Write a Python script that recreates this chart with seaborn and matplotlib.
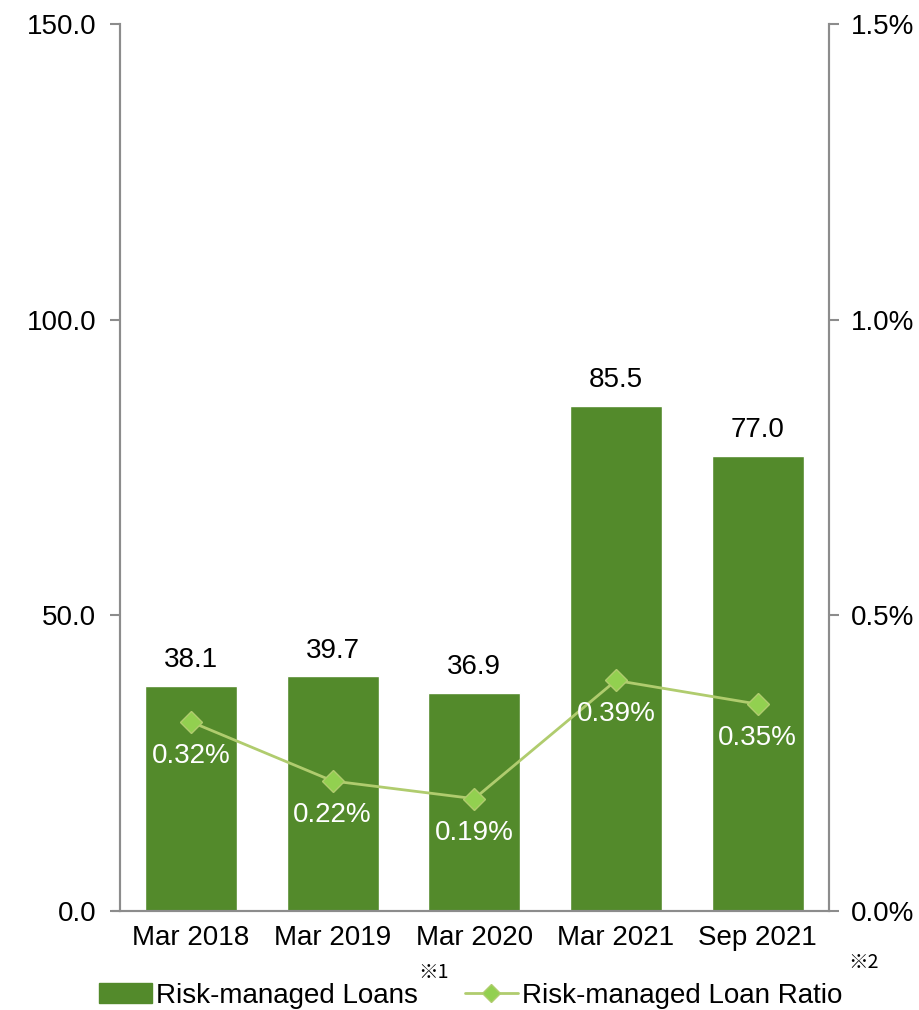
import matplotlib
matplotlib.use("Agg")
import matplotlib.pyplot as plt
import seaborn as sns
import pandas as pd
from matplotlib.patches import Patch
from matplotlib.lines import Line2D
from matplotlib.ticker import FuncFormatter

periods = ["Mar 2018", "Mar 2019", "Mar 2020", "Mar 2021", "Sep 2021"]
loans = [38.1, 39.7, 36.9, 85.5, 77.0]
ratios = [0.32, 0.22, 0.19, 0.39, 0.35]

bar_color = "#538A2B"
line_color = "#B0CC6E"
marker_color = "#92D050"
spine_color = "#8C8C8C"
fs = 20

sns.set_theme(style="white")
plt.rcParams["font.family"] = ["Liberation Sans", "Noto Sans CJK JP", "DejaVu Sans"]
plt.rcParams["text.color"] = "black"

df = pd.DataFrame({"period": periods, "loans": loans, "ratio": ratios})

fig = plt.figure(figsize=(9.19, 10.10), dpi=100)
ax = fig.add_axes([0.1306, 0.098, 0.771, 0.878])

sns.barplot(data=df, x="period", y="loans", color=bar_color, width=0.65,
            saturation=1, ax=ax)
ax.set_ylim(0, 150)
ax.set_yticks([0, 50, 100, 150])
ax.yaxis.set_major_formatter(FuncFormatter(lambda v, p: f"{v:.1f}"))
ax.set_xlabel("")
ax.set_ylabel("")
ax.set_xlim(-0.5, 4.5)

for i, v in enumerate(loans):
    ax.annotate(f"{v:.1f}", (i, v), xytext=(0, 9), textcoords="offset points",
                ha="center", va="bottom", fontsize=fs, color="black")

ax2 = ax.twinx()
ax2.plot(range(len(periods)), ratios, color=line_color, lw=2, marker="D",
         markersize=11, markerfacecolor=marker_color,
         markeredgecolor=line_color, zorder=3)
ax2.set_ylim(0, 1.5)
ax2.set_yticks([0, 0.5, 1.0, 1.5])
ax2.yaxis.set_major_formatter(FuncFormatter(lambda v, p: f"{v:.1f}%"))
ax2.set_ylabel("")

for i, r in enumerate(ratios):
    ax2.annotate(f"{r:.2f}%", (i, r), xytext=(0, -15), textcoords="offset points",
                 ha="center", va="top", fontsize=fs, color="white")

for a in (ax, ax2):
    a.spines["top"].set_visible(False)
    for s in ("left", "right", "bottom"):
        a.spines[s].set_color(spine_color)
        a.spines[s].set_linewidth(1.5)
    a.tick_params(axis="y", labelsize=fs, colors="black", length=7,
                  width=1.5, color=spine_color, direction="out")
ax.tick_params(axis="y", left=True, pad=10)
ax2.tick_params(axis="y", right=True, pad=9)
ax.tick_params(axis="x", labelsize=fs, colors="black", length=0, pad=10)
ax.spines["bottom"].set_bounds(-0.55, 4.5)

handles = [Patch(facecolor=bar_color, edgecolor=bar_color),
           Line2D([0], [0], color=line_color, lw=2, marker="D", markersize=9,
                  markerfacecolor=marker_color, markeredgecolor=line_color)]
labels = ["Risk-managed Loans", "Risk-managed Loan Ratio"]
leg = fig.legend(handles, labels, loc="center", bbox_to_anchor=(0.512, 0.014),
                 ncol=2, frameon=False, fontsize=fs, handlelength=1.9,
                 columnspacing=1.7, handletextpad=0.15)
for t in leg.get_texts():
    t.set_color("black")
fig.text(0.455, 0.0367, "※1", fontsize=14, va="center", color="black",
         family=["Noto Sans CJK JP", "DejaVu Sans"])
fig.text(0.923, 0.0466, "※2", fontsize=14, va="center", color="black",
         family=["Noto Sans CJK JP", "DejaVu Sans"])

fig.savefig("out.png", dpi=100)
